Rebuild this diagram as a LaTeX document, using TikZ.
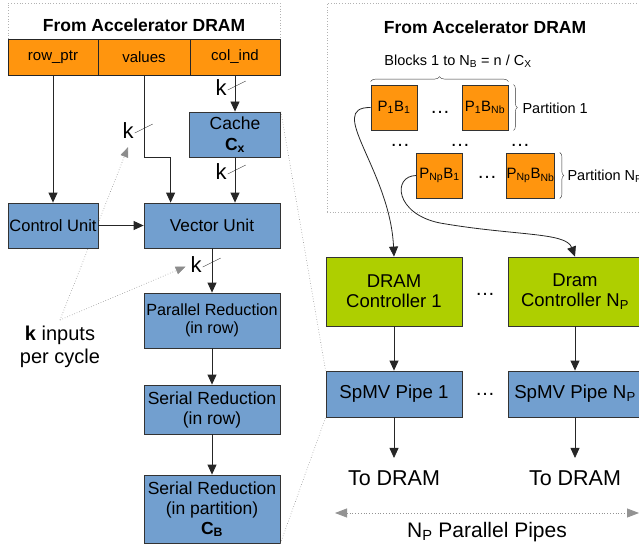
\documentclass[tikz,border=0pt]{standalone}
\usepackage{fontspec}
\setmainfont{Liberation Sans}
\usetikzlibrary{arrows.meta,calc,positioning,decorations.pathreplacing}
\definecolor{accorange}{HTML}{FF950E}
\definecolor{unitblue}{HTML}{729FCF}
\definecolor{ctrlgreen}{HTML}{AECF00}
\tikzset{flow/.style={black!85, line width=0.8pt, -{Triangle[length=10pt, width=9pt]}},
  hint/.style={gray!90, dotted, line width=0.6pt, -{Triangle[length=10pt, width=8pt]}},
  span/.style={gray!85, dotted, thick, {Triangle[length=12pt, width=9pt]}-{Triangle[length=12pt, width=9pt]}},
  zoomln/.style={gray!85, dotted, line width=0.6pt},
  dramframe/.style={gray!60, dotted, thick},
  blk/.style={draw=black!80, line width=0.8pt, fill=unitblue, align=center, inner sep=1pt, minimum width=136pt},
  fld/.style={draw=black!85, line width=0.8pt, fill=accorange, minimum height=36pt, font=\fontsize{15}{17}\selectfont},
  part/.style={draw=black!80, line width=0.8pt, fill=accorange, minimum width=46pt, minimum height=45pt, inner sep=0pt, font=\fontsize{15}{17}\selectfont},
  ctl/.style={blk, fill=ctrlgreen, minimum height=69pt, font=\fontsize{18.5}{20}\selectfont},
  ttl/.style={font=\bfseries\fontsize{17.5}{20}\selectfont},
  klbl/.style={font=\fontsize{22}{24}\selectfont, inner sep=1pt},
  gap/.style={font=\fontsize{20}{22}\selectfont, inner sep=0pt},
  brc/.style={decorate, decoration={brace, amplitude=#1}, black!80, thin}}

\begin{document}
\begin{tikzpicture}[x=1pt, y=-1pt, font=\fontsize{16}{18}\selectfont]
  \clip (0,0) rectangle (639,548);
  % left: one pipe, fed from memory
  \draw[dramframe] (8,39) -- (8,3) -- (280,3) -- (280,39);
  \node[ttl] (memL) at (144,25) {From Accelerator DRAM};
  \node[fld, minimum width=90pt] (rowptr) at (53,57) {row\_ptr};
  \node[fld, minimum width=92pt] (vals) at (144,57) {values};
  \node[fld, minimum width=90pt] (colind) at (235,57) {col\_ind};
  \node[klbl] (kcol) at (221,88) {k};
  \node[klbl] (kval) at (128,131) {k};
  \node[klbl] (kcache) at (221,172) {k};
  \node[klbl] (kvec) at (196,265) {k};
  \node[align=center, font=\fontsize{20}{23}\selectfont] (kin) at (60,347) {\textbf{k} inputs\\per cycle};
  % pointers from the caption, passing behind the control unit
  \coordinate (kfoot) at (60,320);
  \draw[hint] (kfoot) -- ($(kval.south)+(0,7)$);
  \draw[hint, shorten >=4pt] (kfoot) -- (kvec.west);
  \node[blk, minimum width=90pt, minimum height=45pt, font=\fontsize{16.5}{18}\selectfont] (ctrl) at (53,225.5) {Control Unit};
  \node[blk, minimum width=91pt, minimum height=45pt, font=\fontsize{17.5}{21}\selectfont] (cache) at (235,134.5) {Cache\\\textbf{C\textsubscript{x}}};
  \node[blk, minimum height=45pt, font=\fontsize{17.2}{19}\selectfont] (vec) at (212,225.5) {Vector Unit};
  \node[blk, minimum height=55pt, font=\fontsize{16.2}{18}\selectfont] (par) at (212,320.5) {Parallel Reduction\\(in row)};
  \node[blk, minimum height=49pt, font=\fontsize{17.5}{20}\selectfont] (ser1) at (212,409.5) {Serial Reduction\\(in row)};
  \node[blk, minimum height=68pt, font=\fontsize{17.5}{20}\selectfont] (ser2) at (212,509) {Serial Reduction\\(in partition)\\\textbf{C\textsubscript{B}}};
  \draw[flow] (rowptr) -- (ctrl);
  \draw[flow] (vals.south) -- ++(0,82) -| ($(vec.north west)+(27,0)$);
  \draw[flow] (colind) -- (cache);
  \draw[flow] (cache) -- (cache.south |- vec.north);
  \draw[flow] (ctrl) -- (vec);
  \draw[flow] (vec) -- (par);
  \draw[flow] (par) -- (ser1);
  \draw[flow] (ser1) -- (ser2);
  % k-wide bus marks
  \foreach \b in {kcol,kval,kcache,kvec}
    \draw[black!85, thin] ($(\b.east)+(0,2)$) -- ++(18,-9);

  % right: blocks of the matrix
  \draw[dramframe] (327,212) -- (327,3) -- (650,3);
  \draw[dramframe] (327,212) -- (650,212);
  \node[ttl] (memR) at (485,27) {From Accelerator DRAM};
  \node[font=\fontsize{14.5}{16}\selectfont] (blocks) at (458,61) {Blocks 1 to N\textsubscript{B} = n / C\textsubscript{X}};
  \node[part] (b11) at (394,107.5) {P\textsubscript{1}B\textsubscript{1}};
  \node[part] (b1N) at (485,107.5) {P\textsubscript{1}B\textsubscript{Nb}};
  \node[part] (bN1) at (439.5,175.5) {P\textsubscript{Np}B\textsubscript{1}};
  \node[part] (bNN) at (530.5,175.5) {P\textsubscript{Np}B\textsubscript{Nb}};
  \node[gap] (d1) at (440,112) {…};
  \node[gap] (d2) at (400,145) {…};
  \node[gap] (d3) at (460,145) {…};
  \node[gap] (d4) at (520,145) {…};
  \node[gap] (d5) at (487,177) {…};
  \draw[brc=5pt] ($(b11.north west)+(0,-3)$) -- ($(b1N.north east)+(0,-3)$);
  \draw[brc=4pt] ($(b1N.north east)+(5,0)$) -- ($(b1N.south east)+(5,0)$);
  \draw[brc=4pt] ($(bNN.north east)+(5,0)$) -- ($(bNN.south east)+(5,0)$);
  \node[anchor=west, font=\fontsize{14.5}{16}\selectfont] (prt1) at (519,108) {Partition 1};
  \node[anchor=west, font=\fontsize{14.5}{16}\selectfont] (prtN) at (564,176) {Partition N\textsubscript{P}};

  % parallel pipes
  \node[ctl] (dram1) at (394,291.5) {DRAM\\Controller 1};
  \node[ctl, minimum width=134pt] (dramN) at (575,291.5) {Dram\\Controller N\textsubscript{P}};
  \node[blk, minimum height=46pt, font=\fontsize{18.7}{20}\selectfont] (pipe1) at (394,394) {SpMV Pipe 1};
  \node[blk, minimum width=134pt, minimum height=46pt, font=\fontsize{18.7}{20}\selectfont] (pipeN) at (575,394) {SpMV Pipe N\textsubscript{P}};
  \node[gap] (d6) at (485,294) {…};
  \node[gap] (d7) at (485,394) {…};
  \node[font=\fontsize{21.5}{24}\selectfont] (out1) at (394,478) {To DRAM};
  \node[font=\fontsize{21.5}{24}\selectfont] (outN) at (575,478) {To DRAM};
  \draw[flow] (b11.west) .. controls (325,107) and (390,170) .. (dram1.north);
  \draw[flow] (bN1.west) .. controls (392,176) and (395,214) .. (440,223)
    .. controls (515,236) and (566,232) .. (dramN.north);
  \draw[flow] (dram1) -- (pipe1);
  \draw[flow] (dramN) -- (pipeN);
  \draw[flow, shorten >=9pt] (pipe1) -- (out1);
  \draw[flow, shorten >=9pt] (pipeN) -- (outN);
  \coordinate (npL) at (335,513);
  \coordinate (npR) at (639,513);
  \draw[span] (npL) -- (npR);
  \node[font=\fontsize{21}{24}\selectfont] (nplbl) at (487,532) {N\textsubscript{P} Parallel Pipes};
  % zoom from the pipe into its detail
  \draw[zoomln] (cache.north east) -- (pipe1.north west);
  \draw[zoomln] (ser2.south east) -- (pipe1.south west);
\end{tikzpicture}
\end{document}
